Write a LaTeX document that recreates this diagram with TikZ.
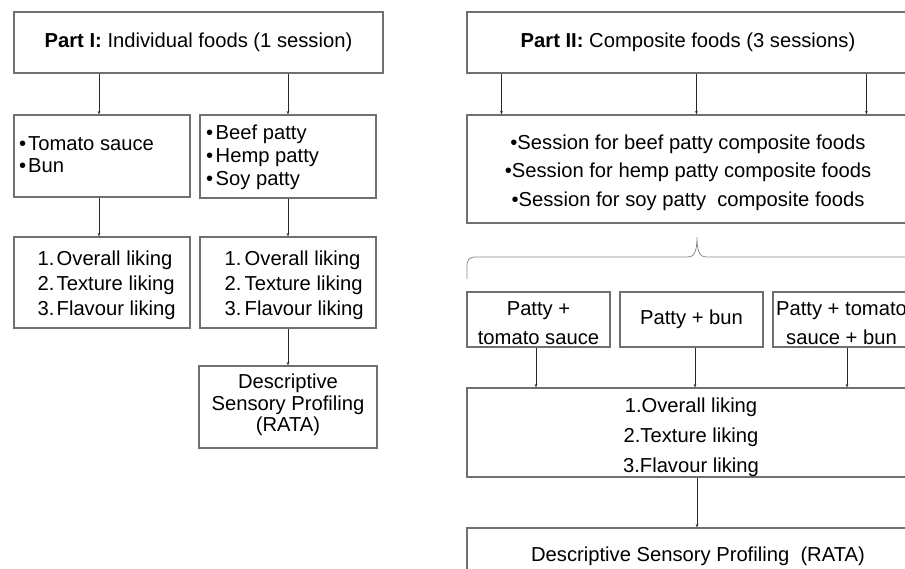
\documentclass[tikz,border=0pt]{standalone}
\usepackage{fontspec}
\setmainfont{Liberation Sans}
\usetikzlibrary{arrows.meta}
\definecolor{bordergray}{RGB}{112,112,112}
\definecolor{arrowgray}{RGB}{40,40,40}
\newcommand\fsz[1]{\fontsize{20.2}{#1}\selectfont}
\newcommand\bul[1]{\makebox[#1][l]{•}}
\newcommand\num[2]{\makebox[#1][l]{#2}}
\begin{document}
\begin{tikzpicture}[x=1pt,y=-1pt,
  box/.style={draw=bordergray, line width=1.1pt, inner sep=0pt, align=center},
  txt/.style={inner sep=0pt, align=left},
  ctxt/.style={inner sep=0pt, align=center},
  arr/.style={draw=arrowgray, line width=0.6pt, -{Stealth[length=3.5pt,width=2.6pt]}},
  bracepath/.style={draw=bordergray!80, line width=0.8pt}]
\useasboundingbox (0,0) rectangle (905,568);
\clip (0,0) rectangle (905,568);
\fill[white] (0,0) rectangle (905,568);
% Part I
\node[box, minimum width=369pt, minimum height=61pt, font=\fsz{24}] (p1) at (198.5,42.5) {\textbf{Part I:} Individual foods (1 session)};
\node[box, minimum width=176pt, minimum height=82pt] (a1) at (102,156) {};
\node[box, minimum width=176pt, minimum height=83pt] (a2) at (288,156.5) {};
\node[box, minimum width=176pt, minimum height=91pt] (b1) at (102,282.5) {};
\node[box, minimum width=176pt, minimum height=91pt] (b2) at (288,282.5) {};
\node[box, minimum width=178pt, minimum height=82pt] (c2) at (288,407) {};
\node[ctxt, font=\fsz{21.5}] (tc2) at (288,405) {Descriptive\\Sensory Profiling\\(RATA)};
\node[txt, anchor=west, font=\fsz{22}] (ta1) at (19,155) {\bul{9pt}Tomato sauce\\\bul{9pt}Bun};
\node[txt, anchor=west, font=\fsz{23}] (ta2) at (206,157) {\bul{9.5pt}Beef patty\\\bul{9.5pt}Hemp patty\\\bul{9.5pt}Soy patty};
\node[txt, anchor=west, font=\fsz{25}] (tb1) at (37.5,285) {\num{19pt}{1.}Overall liking\\\num{19pt}{2.}Texture liking\\\num{19pt}{3.}Flavour liking};
\node[txt, anchor=west, font=\fsz{25}] (tb2) at (224.5,285) {\num{20pt}{1.}Overall liking\\\num{20pt}{2.}Texture liking\\\num{20pt}{3.}Flavour liking};
% Part II
\node[box, minimum width=442pt, minimum height=61pt, font=\fsz{24}] (p2) at (688,42.5) {\textbf{Part II:} Composite foods (3 sessions)};
\node[box, minimum width=442pt, minimum height=108pt] (s) at (688,169) {};
\node[ctxt, font=\fsz{28.5}] (ts) at (688,172.5) {•Session for beef patty composite foods\\•Session for hemp patty composite foods\\•Session for soy patty\ \ composite foods};
\node[box, minimum width=143pt, minimum height=55pt] (q1) at (538.5,319.5) {};
\node[ctxt, font=\fsz{29}] (tq1) at (538.5,323.5) {Patty +\\tomato sauce};
\node[box, minimum width=143pt, minimum height=55pt, font=\fsz{29}] (q2) at (691.5,319.5) {Patty + bun};
\node[box, minimum width=143pt, minimum height=55pt] (q3) at (844.5,319.5) {};
\node[ctxt, font=\fsz{29}] (tq3) at (841.5,323.5) {Patty + tomato\\sauce + bun};
\node[box, minimum width=448pt, minimum height=89pt] (r) at (691,432.5) {};
\node[ctxt, font=\fsz{30}] (tr) at (691,437.5) {1.Overall liking\\2.Texture liking\\3.Flavour liking};
\node[box, minimum width=462pt, minimum height=56pt, font=\fsz{24}] (f) at (698,556) {Descriptive Sensory Profiling\ \ (RATA)};
% arrows Part I
\draw[arr] ([xshift=-3pt]a1.north |- p1.south) -- ([xshift=-3pt]a1.north);
\draw[arr] (a2.north |- p1.south) -- (a2.north);
\draw[arr] ([xshift=-3pt]a1.south) -- ([xshift=-3pt]b1.north);
\draw[arr] (a2.south) -- (b2.north);
\draw[arr] (b2.south) -- (c2.north);
% arrows Part II
\draw[arr] ([xshift=35pt]s.north west |- p2.south) -- ([xshift=35pt]s.north west);
\draw[arr] ([xshift=230pt]s.north west |- p2.south) -- ([xshift=230pt]s.north west);
\draw[arr] ([xshift=400pt]s.north west |- p2.south) -- ([xshift=400pt]s.north west);
\draw[arr] ([xshift=-2.5pt]q1.south) -- ([xshift=-2.5pt]q1.south |- r.north);
\draw[arr] ([xshift=3.5pt]q2.south) -- ([xshift=3.5pt]q2.south |- r.north);
\draw[arr] ([xshift=2.5pt]q3.south) -- ([xshift=2.5pt]q3.south |- r.north);
\draw[arr] ([xshift=6pt]r.south) -- ([xshift=6pt]r.south |- f.north);
% brace
\coordinate (bl) at (467,279);
\coordinate (bt) at (697,237);
\coordinate (br) at (930,257);
\draw[bracepath] (bl) -- (467,267) .. controls (467,259) and (469,257) .. (477,257) -- (688,257) .. controls (694,257) and (697,252) .. (bt) .. controls (697,252) and (700,257) .. (706,257) -- (br);
\end{tikzpicture}
\end{document}
